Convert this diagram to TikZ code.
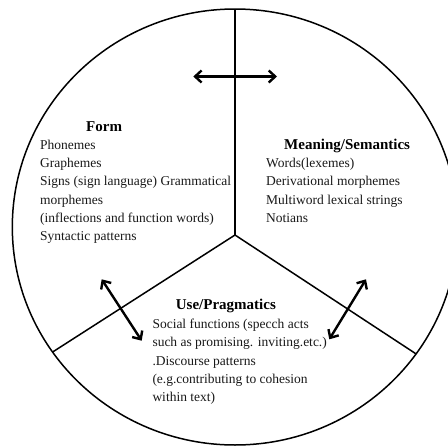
\documentclass[tikz,border=0pt]{standalone}
\usepackage{fontspec}
\setmainfont{Liberation Serif}
\usetikzlibrary{arrows.meta}
\begin{document}
\begin{tikzpicture}[x=1pt,y=-1pt,
  body/.style={anchor=base west,inner sep=0pt,text=black!90,font=\fontsize{13.5}{16}\selectfont},
  head/.style={anchor=base west,inner sep=0pt,text=black,font=\fontsize{15}{18}\selectfont\bfseries},
  rim/.style={line width=1.5pt,draw=black},
  spoke/.style={line width=1.5pt,draw=black},
  barb/.style={Straight Barb[length=6.5pt,width=12pt,line width=2.4pt]},
  dbl/.style={line width=2.4pt,{Straight Barb[length=6.5pt,width=12pt,line width=2.4pt]}-{Straight Barb[length=6.5pt,width=12pt,line width=2.4pt]}}
]
\useasboundingbox (0,0) rectangle (448,448);
\fill[white] (0,0) rectangle (448,448);
% circle (slightly wide ellipse)
\coordinate (c) at (235,227);
\draw[rim] (c) ellipse [x radius=222.7pt, y radius=218pt];
\coordinate (hub) at (235,235);
\coordinate (top) at (235,9);
\path (c) ++(-145:222.7pt and 218pt) coordinate (ll);
\path (c) ++(-35.6:222.7pt and 218pt) coordinate (lr);
\draw[spoke] (top) -- (hub);
\draw[spoke] (hub) -- (ll);
\draw[spoke] (hub) -- (lr);
% arrows
\coordinate (a1) at (193.3,76.5);
\coordinate (a2) at (277,76.5);
\coordinate (b1) at (101.7,279.3);
\coordinate (b2) at (141.7,340.7);
\coordinate (d1) at (366,279.3);
\coordinate (d2) at (329.3,339.3);
\draw[dbl] (a1) -- (a2);
\draw[dbl] (b1) -- (b2);
\draw[dbl] (d1) -- (d2);
% Form
\node[head] (formh) at (86,131.5) {Form};
\node[body] (f1) at (40,149.5) {Phonemes};
\node[body] (f2) at (40,167.7) {Graphemes};
\node[body] (f3) at (40,185.9) {Signs (sign language) Grammatical};
\node[body] (f4) at (40,204.1) {morphemes};
\node[body] (f5) at (40,222.3) {(inflections and function words)};
\node[body] (f6) at (40,240.5) {Syntactic patterns};
% Meaning
\node[head] (mh) at (284,149.5) {Meaning/Semantics};
\node[body] (m1) at (266,167.7) {Words(lexemes)};
\node[body] (m2) at (266,185.9) {Derivational morphemes};
\node[body] (m3) at (266,204.1) {Multiword lexical strings};
\node[body] (m4) at (266,222.3) {Notians};
% Use
\node[head] (uh) at (175.7,309.5) {Use/Pragmatics};
\node[body] (u1) at (152.3,328.6) {Social functions (specch acts};
\node[body] (u2) at (152.3,346.8) {such as promising. inviting.etc.)};
\node[body] (u3) at (152.3,365) {.Discourse patterns};
\node[body] (u4) at (152.3,383.2) {(e.g.contributing to cohesion};
\node[body] (u5) at (152.3,401.4) {within text)};
\end{tikzpicture}
\end{document}
